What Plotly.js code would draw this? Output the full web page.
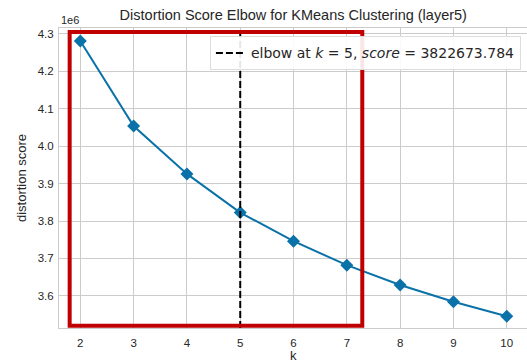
<!DOCTYPE html>
<html>
<head>
<meta charset="utf-8">
<script src="https://cdn.plot.ly/plotly-3.0.1.min.js"></script>
<style>html,body{margin:0;padding:0;background:#fff}#chart{width:527px;height:363px}</style>
</head>
<body>
<div id="chart"></div>
<script>
const kValues = [2, 3, 4, 5, 6, 7, 8, 9, 10];
const distortion = [4.281e6, 4.054e6, 3.926e6, 3.822673784e6, 3.746e6, 3.682e6, 3.629e6, 3.584e6, 3.5455e6];
const elbowK = 5;
const elbowScore = 3822673.784;
const xTicks = [2, 3, 4, 5, 6, 7, 8, 9, 10];
const yTicks = [3.6e6, 3.7e6, 3.8e6, 3.9e6, 4.0e6, 4.1e6, 4.2e6, 4.3e6];
const yTickText = ['3.6', '3.7', '3.8', '3.9', '4.0', '4.1', '4.2', '4.3'];
const yRange = [3.514e6, 4.316e6];
const xRange = [1.6, 10.38];

const font = "'Liberation Sans', Arial, sans-serif";
const textColor = '#262626';

const traces = [
  {
    x: kValues, y: distortion, type: 'scatter', mode: 'lines+markers',
    line: {color: '#0A72A8', width: 2},
    marker: {symbol: 'diamond', size: 10, color: '#0A72A8'},
    showlegend: false, hoverinfo: 'x+y'
  },
  {
    x: [elbowK, elbowK], y: yRange, type: 'scatter', mode: 'lines',
    line: {color: '#000000', width: 2, dash: '7px,3px'},
    name: 'elbow at <i>k</i> = ' + elbowK + ', <i>score</i> = ' + elbowScore.toFixed(3),
    showlegend: true
  }
];

const layout = {
  width: 527, height: 363,
  margin: {l: 59, r: 0, t: 28, b: 35},
  paper_bgcolor: '#ffffff', plot_bgcolor: '#ffffff',
  font: {family: font, color: textColor},
  title: {text: 'Distortion Score Elbow for KMeans Clustering (layer5)', x: 0.5565, xanchor: 'center', y: 0.958, yanchor: 'middle', font: {size: 14.5, color: textColor}},
  xaxis: {
    range: xRange, tickvals: xTicks, ticktext: xTicks.map(String),
    showgrid: true, gridcolor: '#cccccc', gridwidth: 1,
    zeroline: false, showline: true, linecolor: '#cccccc', linewidth: 1, mirror: true,
    ticks: '', tickfont: {size: 11.5, color: textColor}, ticklabelstandoff: 4,
    automargin: false
  },
  yaxis: {
    range: yRange, tickvals: yTicks, ticktext: yTickText,
    showgrid: true, gridcolor: '#cccccc', gridwidth: 1,
    zeroline: false, showline: true, linecolor: '#cccccc', linewidth: 1, mirror: true,
    ticks: '', tickfont: {size: 11.5, color: textColor}, ticklabelstandoff: 2,
    title: {text: 'distortion score', font: {size: 13, color: textColor}, standoff: 8}
  },
  legend: {
    x: 0.987, xanchor: 'right', y: 0.972, yanchor: 'top',
    bgcolor: 'rgba(255,255,255,0.9)', bordercolor: '#dddddd', borderwidth: 1,
    font: {size: 14, color: textColor, family: "'DejaVu Sans', sans-serif"}
  },
  shapes: [
    {type: 'rect', xref: 'x', yref: 'y', x0: 1.8, x1: 7.29, y0: 3.52e6, y1: 4.305e6,
     line: {color: '#c00000', width: 4}, fillcolor: 'rgba(0,0,0,0)'}
  ],
  annotations: [
    {text: '1e6', xref: 'paper', yref: 'paper', x: 0, y: 1, xanchor: 'left', yanchor: 'bottom',
     showarrow: false, font: {size: 11, color: textColor}, yshift: 0},
    {text: 'k', xref: 'paper', yref: 'paper', x: 0.5, y: -0.091, xanchor: 'center', yanchor: 'middle',
     showarrow: false, font: {size: 13, color: textColor}}
  ]
};

Plotly.newPlot('chart', traces, layout, {displayModeBar: false, staticPlot: true});
</script>
</body>
</html>
